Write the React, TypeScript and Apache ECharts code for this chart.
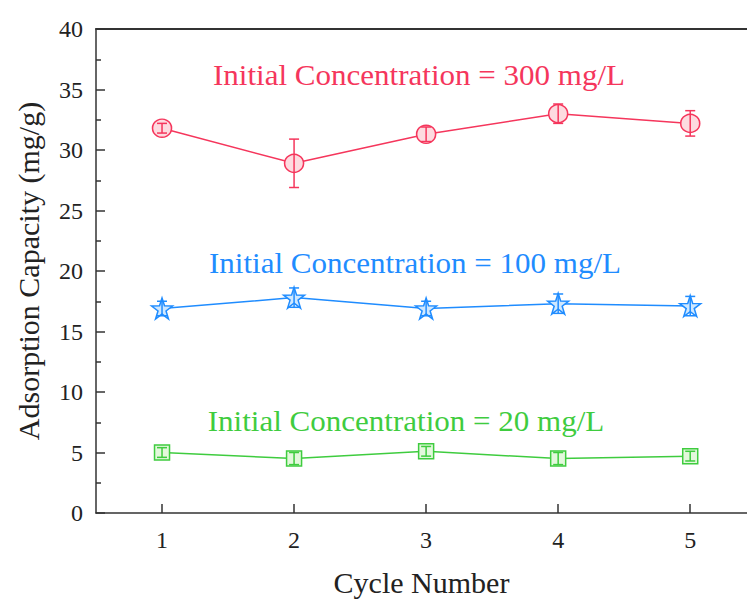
import React, { useEffect, useRef } from "react";
import * as echarts from "echarts";

const cycles = [1, 2, 3, 4, 5];
const conc300 = [31.8, 28.9, 31.3, 33.0, 32.2];
const err300 = [0.4, 2.0, 0.6, 0.8, 1.05];
const conc100 = [16.9, 17.8, 16.9, 17.3, 17.1];
const err100 = [0.6, 0.8, 0.6, 0.8, 0.8];
const conc20 = [5.0, 4.5, 5.1, 4.5, 4.7];
const err20 = [0.4, 0.5, 0.4, 0.5, 0.4];
const yTicks = [0, 5, 10, 15, 20, 25, 30, 35, 40];
const xTicks = [1, 2, 3, 4, 5];

const RED = "#f5365c";
const RED_FILL = "#fddbe0";
const BLUE = "#1f8cff";
const BLUE_FILL = "#cfe8ff";
const GREEN = "#3fcc3f";
const GREEN_FILL = "#e3f8dc";
const FONT = "Liberation Serif";

const STAR =
  "path://M50,0 L61.8,35.4 L100,36.3 L69.1,58.8 L80.9,95.1 L50,72.7 L19.1,95.1 L30.9,58.8 L0,36.3 L38.2,35.4 Z";

function errorSeries(vals: number[], errs: number[], color: string) {
  return {
    type: "custom",
    z: 5,
    silent: true,
    data: cycles.map((c, i) => [c, vals[i] - errs[i], vals[i] + errs[i]]),
    renderItem: (params: any, api: any) => {
      const x = api.value(0);
      const lo = api.coord([x, api.value(1)]);
      const hi = api.coord([x, api.value(2)]);
      const cap = 5;
      const style = { stroke: color, lineWidth: 1.5 };
      return {
        type: "group",
        children: [
          { type: "line", shape: { x1: lo[0], y1: lo[1], x2: hi[0], y2: hi[1] }, style },
          { type: "line", shape: { x1: lo[0] - cap, y1: lo[1], x2: lo[0] + cap, y2: lo[1] }, style },
          { type: "line", shape: { x1: hi[0] - cap, y1: hi[1], x2: hi[0] + cap, y2: hi[1] }, style },
        ],
      };
    },
  };
}

function lineSeries(vals: number[], color: string, fill: string, symbol: string, size: any) {
  return {
    type: "line",
    xAxisIndex: 0,
    z: 3,
    data: cycles.map((c, i) => [c, vals[i]]),
    symbol,
    symbolSize: size,
    showAllSymbol: true,
    lineStyle: { color, width: 1.5 },
    itemStyle: { color: fill, borderColor: color, borderWidth: 1.5 },
  };
}

function annot(text: string, x: number, y: number, color: string) {
  return {
    type: "text",
    x,
    y,
    scaleX: 1.07,
    style: {
      text,
      fill: color,
      fontFamily: FONT,
      fontSize: 29,
      textAlign: "center",
      textVerticalAlign: "middle",
    },
  };
}

export default function App() {
  const ref = useRef<HTMLDivElement>(null);
  useEffect(() => {
    if (!ref.current) return;
    const chart = echarts.init(ref.current, undefined, { renderer: "svg" });
    chart.setOption({
      animation: false,
      backgroundColor: "#ffffff",
      textStyle: { fontFamily: FONT },
      grid: { left: 96, top: 29, right: 0, bottom: 90 },
      xAxis: [
        {
          type: "value",
          min: 0.5,
          max: 5.43,
          name: "Cycle Number",
          nameLocation: "middle",
          nameGap: 54,
          nameTextStyle: { fontFamily: FONT, fontSize: 30, color: "#222" },
          axisLine: { show: true, onZero: false, lineStyle: { color: "#333", width: 1.5 } },
          axisTick: {
            show: true,
            inside: true,
            length: 9,
            lineStyle: { color: "#333", width: 1.5 },
            customValues: xTicks,
          },
          axisLabel: {
            fontFamily: FONT,
            fontSize: 24,
            color: "#222",
            margin: 15,
            customValues: xTicks,
          },
          splitLine: { show: false },
        },
        {
          type: "value",
          position: "top",
          min: 0.5,
          max: 5.43,
          axisLine: { show: true, onZero: false, lineStyle: { color: "#333", width: 2 } },
          axisTick: { show: false },
          axisLabel: { show: false },
          splitLine: { show: false },
        },
      ],
      yAxis: {
        type: "value",
        min: 0,
        max: 40,
        interval: 5,
        name: "Adsorption Capacity (mg/g)",
        nameLocation: "middle",
        nameGap: 53,
        nameTextStyle: { fontFamily: FONT, fontSize: 30, color: "#222" },
        axisLine: { show: true, lineStyle: { color: "#333", width: 1.5 } },
        axisTick: { show: true, inside: true, length: 9, lineStyle: { color: "#333", width: 1.5 } },
        minorTick: { show: true, splitNumber: 2, length: 5, lineStyle: { color: "#333", width: 1.5 } },
        axisLabel: {
          fontFamily: FONT,
          fontSize: 24,
          color: "#222",
          margin: 13,
          formatter: (v: number) => (yTicks.includes(v) ? String(v) : ""),
        },
        splitLine: { show: false },
      },
      graphic: [
        annot("Initial Concentration = 300 mg/L", 419, 75, RED),
        annot("Initial Concentration = 100 mg/L", 415, 263, BLUE),
        annot("Initial Concentration = 20 mg/L", 406, 421, GREEN),
      ],
      series: [
        lineSeries(conc300, RED, RED_FILL, "circle", [19, 18]),
        errorSeries(conc300, err300, RED),
        lineSeries(conc100, BLUE, BLUE_FILL, STAR, 21),
        errorSeries(conc100, err100, BLUE),
        lineSeries(conc20, GREEN, GREEN_FILL, "rect", 15),
        errorSeries(conc20, err20, GREEN),
      ],
    });
    return () => chart.dispose();
  }, []);
  return (
    <div
      ref={ref}
      style={{ position: "fixed", left: 0, top: 0, width: 747, height: 603, background: "#fff" }}
    />
  );
}
